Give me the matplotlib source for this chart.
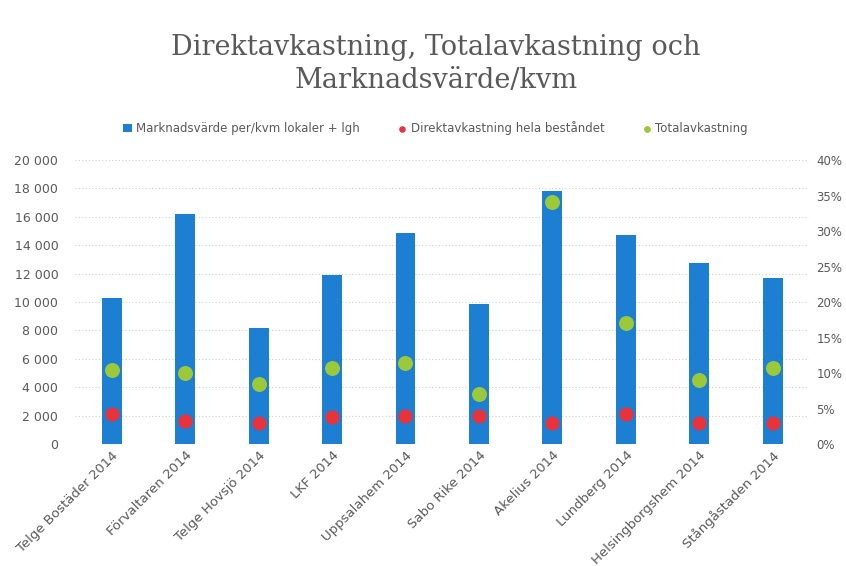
import numpy as np
import matplotlib
matplotlib.use("Agg")
from matplotlib import pyplot as plt
from matplotlib.ticker import FuncFormatter

# Data
companies = ["Telge Bostäder 2014", "Förvaltaren 2014", "Telge Hovsjö 2014", "LKF 2014",
             "Uppsalahem 2014", "Sabo Rike 2014", "Akelius 2014", "Lundberg 2014",
             "Helsingborgshem 2014", "Stångåstaden 2014"]
marknadsvarde = [10300, 16200, 8200, 11900, 14850, 9850, 17800, 14750, 12750, 11700]
direktavkastning = [4.2, 3.3, 2.9, 3.85, 3.9, 4.0, 3.0, 4.2, 2.9, 2.9]
totalavkastning = [10.4, 10.0, 8.4, 10.7, 11.45, 7.1, 34.1, 17.0, 9.0, 10.75]

bar_col = "#1c7fd2"
red_col = "#e8323c"
green_col = "#9cc93a"
text_col = "#595959"

fig = plt.figure(figsize=(8.46, 5.66), dpi=100)
ax = fig.add_axes([0.0887, 0.2155, 0.868, 0.5018])
ax2 = ax.twinx()

x = np.arange(len(companies))
ax.bar(x, marknadsvarde, width=0.27, color=bar_col, zorder=2,
       label="Marknadsvärde per/kvm lokaler + lgh")
ax2.scatter(x, direktavkastning, s=85, color=red_col, zorder=3,
            label="Direktavkastning hela beståndet")
ax2.scatter(x, totalavkastning, s=95, color=green_col, zorder=3,
            label="Totalavkastning")

ax.set_xlim(-0.5, len(companies) - 0.5)
ax.set_ylim(0, 20000)
ax.set_yticks(np.arange(0, 20001, 2000))
ax.yaxis.set_major_formatter(FuncFormatter(lambda v, p: f"{int(v):,}".replace(",", " ")))
ax2.set_ylim(0, 40)
ax2.set_yticks(np.arange(0, 41, 5))
ax2.yaxis.set_major_formatter(FuncFormatter(lambda v, p: f"{int(v)}%"))

ax.grid(axis="y", color="#cfcfcf", linestyle=(0, (1, 2)), linewidth=0.8, zorder=0)
ax.set_axisbelow(True)
for a in (ax, ax2):
    for s in a.spines.values():
        s.set_visible(False)
    a.tick_params(length=0, colors=text_col, labelsize=9)
ax.tick_params(axis="y", pad=12)
ax2.tick_params(axis="y", pad=5, labelsize=8.5)

ax.set_xticks(x)
ax.set_xticklabels(companies, rotation=45, ha="right", rotation_mode="anchor",
                   fontsize=9.5, color=text_col)

fig.text(0.515, 0.887, "Direktavkastning, Totalavkastning och\nMarknadsvärde/kvm",
         ha="center", va="center", fontsize=19.5, family="DejaVu Serif",
         color=text_col, linespacing=1.3)

h1, l1 = ax.get_legend_handles_labels()
h2, l2 = ax2.get_legend_handles_labels()
fig.legend(h1 + h2, l1 + l2, loc="center", bbox_to_anchor=(0.515, 0.773), ncol=3,
           frameon=False, fontsize=8.5, handlelength=0.7, handletextpad=0.4,
           columnspacing=3.2, markerscale=0.4, labelcolor=text_col)

fig.savefig("out.png", dpi=100)
